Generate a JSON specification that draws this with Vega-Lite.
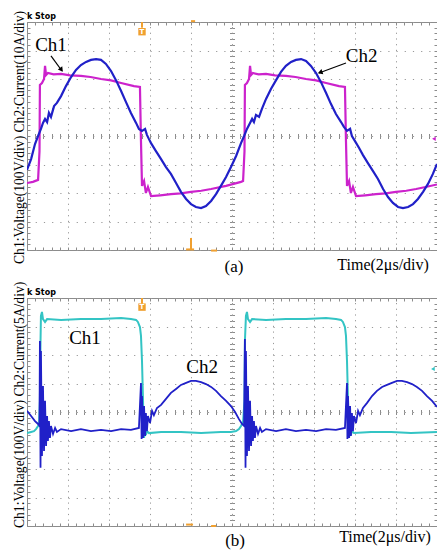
{
  "$schema": "https://vega.github.io/schema/vega-lite/v6.json",
  "background": "white",
  "padding": {"left": 12, "top": 10, "right": 0, "bottom": 0},
  "bounds": "flush",
  "spacing": 48,
  "config": {
    "view": {"stroke": "#8c8c8c", "strokeWidth": 1},
    "axis": {"labels": false, "domain": false, "ticks": false, "grid": false, "tickColor": "#8c8c8c", "tickWidth": 1, "gridColor": "#999999", "gridWidth": 1, "gridOpacity": 1}
  },
  "datasets": {
    "a1": [{"t":0,"v":-1.65},{"t":0.29,"v":-1.61},{"t":0.54,"v":-1.54},{"t":0.61,"v":-0.53},{"t":0.63,"v":1.79},{"t":0.73,"v":1.86},{"t":0.83,"v":2.0},{"t":0.88,"v":2.46},{"t":0.93,"v":2.14},{"t":1.02,"v":2.21},{"t":1.3,"v":2.16},{"t":1.66,"v":2.18},{"t":2.1,"v":2.13},{"t":2.63,"v":2.11},{"t":3.1,"v":2.07},{"t":3.61,"v":2.0},{"t":4.1,"v":1.95},{"t":4.59,"v":1.86},{"t":5.22,"v":1.75},{"t":5.51,"v":1.72},{"t":5.56,"v":-0.18},{"t":5.61,"v":-1.75},{"t":5.71,"v":-1.58},{"t":5.8,"v":-2.0},{"t":5.9,"v":-1.79},{"t":6.05,"v":-2.11},{"t":6.5,"v":-2.08},{"t":7.02,"v":-2.04},{"t":7.5,"v":-2.01},{"t":8.0,"v":-1.96},{"t":8.5,"v":-1.92},{"t":8.98,"v":-1.86},{"t":9.71,"v":-1.75},{"t":10.44,"v":-1.61},{"t":10.54,"v":-1.58},{"t":10.61,"v":-0.53},{"t":10.63,"v":1.79},{"t":10.73,"v":1.86},{"t":10.83,"v":2.0},{"t":10.88,"v":2.46},{"t":10.93,"v":2.14},{"t":11.02,"v":2.21},{"t":11.3,"v":2.16},{"t":11.66,"v":2.18},{"t":12.1,"v":2.13},{"t":12.63,"v":2.11},{"t":13.1,"v":2.07},{"t":13.61,"v":2.0},{"t":14.1,"v":1.95},{"t":14.59,"v":1.86},{"t":15.22,"v":1.75},{"t":15.51,"v":1.72},{"t":15.56,"v":-0.18},{"t":15.61,"v":-1.75},{"t":15.71,"v":-1.58},{"t":15.8,"v":-2.0},{"t":15.9,"v":-1.79},{"t":16.05,"v":-2.11},{"t":16.5,"v":-2.08},{"t":17.02,"v":-2.04},{"t":17.5,"v":-2.01},{"t":18.0,"v":-1.96},{"t":18.5,"v":-1.92},{"t":18.98,"v":-1.86},{"t":19.5,"v":-1.78},{"t":20.0,"v":-1.7}],
    "a2": [{"t":0,"v":-1.19},{"t":0.2,"v":-0.81},{"t":0.39,"v":-0.28},{"t":0.54,"v":0},{"t":0.68,"v":0.25},{"t":0.78,"v":0.46},{"t":0.88,"v":0.6},{"t":0.98,"v":0.49},{"t":1.07,"v":0.81},{"t":1.17,"v":0.67},{"t":1.32,"v":1.05},{"t":1.46,"v":1.16},{"t":1.66,"v":1.4},{"t":1.9,"v":1.75},{"t":2.15,"v":2.07},{"t":2.39,"v":2.32},{"t":2.63,"v":2.49},{"t":2.88,"v":2.6},{"t":3.12,"v":2.67},{"t":3.37,"v":2.7},{"t":3.61,"v":2.67},{"t":3.85,"v":2.53},{"t":4.1,"v":2.28},{"t":4.34,"v":1.96},{"t":4.59,"v":1.58},{"t":4.83,"v":1.19},{"t":5.07,"v":0.81},{"t":5.32,"v":0.46},{"t":5.46,"v":0.25},{"t":5.61,"v":0.18},{"t":5.76,"v":0.25},{"t":5.85,"v":0.04},{"t":5.95,"v":-0.11},{"t":6.05,"v":-0.25},{"t":6.29,"v":-0.53},{"t":6.54,"v":-0.81},{"t":6.78,"v":-1.09},{"t":7.02,"v":-1.33},{"t":7.27,"v":-1.65},{"t":7.51,"v":-1.96},{"t":7.76,"v":-2.21},{"t":8.0,"v":-2.39},{"t":8.24,"v":-2.49},{"t":8.49,"v":-2.53},{"t":8.73,"v":-2.46},{"t":8.98,"v":-2.28},{"t":9.22,"v":-2.04},{"t":9.46,"v":-1.75},{"t":9.71,"v":-1.44},{"t":9.95,"v":-1.09},{"t":10.2,"v":-0.7},{"t":10.44,"v":-0.25},{"t":10.59,"v":0},{"t":10.73,"v":0.25},{"t":10.88,"v":0.46},{"t":10.98,"v":0.6},{"t":11.07,"v":0.49},{"t":11.17,"v":0.74},{"t":11.32,"v":0.67},{"t":11.46,"v":0.95},{"t":11.66,"v":1.3},{"t":11.9,"v":1.65},{"t":12.15,"v":1.96},{"t":12.39,"v":2.25},{"t":12.63,"v":2.46},{"t":12.88,"v":2.6},{"t":13.12,"v":2.67},{"t":13.37,"v":2.7},{"t":13.61,"v":2.63},{"t":13.85,"v":2.46},{"t":14.1,"v":2.21},{"t":14.34,"v":1.89},{"t":14.59,"v":1.51},{"t":14.83,"v":1.12},{"t":15.07,"v":0.77},{"t":15.32,"v":0.49},{"t":15.46,"v":0.32},{"t":15.61,"v":0.18},{"t":15.76,"v":0.25},{"t":15.85,"v":0},{"t":16.0,"v":-0.18},{"t":16.2,"v":-0.42},{"t":16.39,"v":-0.67},{"t":16.63,"v":-0.95},{"t":16.88,"v":-1.23},{"t":17.12,"v":-1.51},{"t":17.37,"v":-1.86},{"t":17.61,"v":-2.14},{"t":17.85,"v":-2.35},{"t":18.1,"v":-2.49},{"t":18.34,"v":-2.53},{"t":18.59,"v":-2.49},{"t":18.83,"v":-2.39},{"t":19.07,"v":-2.21},{"t":19.32,"v":-1.96},{"t":19.56,"v":-1.68},{"t":19.8,"v":-1.33},{"t":20.0,"v":-0.98}],
    "b1": [{"t":0,"v":-0.74},{"t":0.2,"v":-0.7},{"t":0.34,"v":-0.67},{"t":0.44,"v":-0.6},{"t":0.54,"v":-0.49},{"t":0.59,"v":-0.39},{"t":0.63,"v":0.39},{"t":0.66,"v":2.49},{"t":0.68,"v":3.37},{"t":0.73,"v":3.51},{"t":0.78,"v":3.26},{"t":0.88,"v":3.16},{"t":0.98,"v":3.26},{"t":1.66,"v":3.23},{"t":2.63,"v":3.26},{"t":3.61,"v":3.26},{"t":4.59,"v":3.3},{"t":5.07,"v":3.26},{"t":5.32,"v":3.23},{"t":5.41,"v":3.16},{"t":5.51,"v":2.98},{"t":5.56,"v":2.67},{"t":5.61,"v":1.79},{"t":5.66,"v":0.39},{"t":5.68,"v":-0.49},{"t":5.71,"v":-0.91},{"t":5.76,"v":-0.6},{"t":5.8,"v":-0.81},{"t":5.85,"v":-0.67},{"t":5.95,"v":-0.74},{"t":6.54,"v":-0.7},{"t":7.51,"v":-0.7},{"t":8.49,"v":-0.74},{"t":9.46,"v":-0.7},{"t":9.95,"v":-0.7},{"t":10.2,"v":-0.67},{"t":10.34,"v":-0.6},{"t":10.44,"v":-0.49},{"t":10.54,"v":-0.35},{"t":10.61,"v":0.39},{"t":10.63,"v":2.49},{"t":10.68,"v":3.37},{"t":10.73,"v":3.51},{"t":10.78,"v":3.26},{"t":10.88,"v":3.16},{"t":10.98,"v":3.26},{"t":11.66,"v":3.23},{"t":12.63,"v":3.26},{"t":13.61,"v":3.26},{"t":14.59,"v":3.3},{"t":15.07,"v":3.26},{"t":15.32,"v":3.23},{"t":15.41,"v":3.16},{"t":15.51,"v":2.98},{"t":15.56,"v":2.67},{"t":15.61,"v":1.79},{"t":15.66,"v":0.39},{"t":15.68,"v":-0.49},{"t":15.71,"v":-0.91},{"t":15.76,"v":-0.6},{"t":15.8,"v":-0.81},{"t":15.85,"v":-0.67},{"t":15.95,"v":-0.74},{"t":16.78,"v":-0.7},{"t":17.76,"v":-0.7},{"t":18.73,"v":-0.74},{"t":20.0,"v":-0.7}],
    "b2": [{"t":0,"v":0.04},{"t":0.2,"v":-0.14},{"t":0.39,"v":-0.32},{"t":0.54,"v":-0.42},{"t":0.61,"v":-0.49},{"t":0.63,"v":2.49},{"t":0.66,"v":-1.96},{"t":0.68,"v":2.14},{"t":0.73,"v":-1.54},{"t":0.78,"v":0.91},{"t":0.83,"v":-1.37},{"t":0.88,"v":0.39},{"t":0.93,"v":-1.19},{"t":0.98,"v":-0.14},{"t":1.02,"v":-1.02},{"t":1.07,"v":-0.32},{"t":1.12,"v":-0.91},{"t":1.17,"v":-0.49},{"t":1.27,"v":-0.77},{"t":1.37,"v":-0.56},{"t":1.46,"v":-0.7},{"t":1.66,"v":-0.6},{"t":2.15,"v":-0.67},{"t":2.63,"v":-0.6},{"t":3.12,"v":-0.67},{"t":3.61,"v":-0.63},{"t":4.1,"v":-0.67},{"t":4.59,"v":-0.6},{"t":5.07,"v":-0.63},{"t":5.46,"v":-0.56},{"t":5.56,"v":1.02},{"t":5.59,"v":-0.95},{"t":5.61,"v":0.56},{"t":5.66,"v":-0.91},{"t":5.71,"v":0.21},{"t":5.76,"v":-0.84},{"t":5.8,"v":-0.04},{"t":5.85,"v":-0.67},{"t":5.9,"v":-0.14},{"t":6.0,"v":-0.39},{"t":6.1,"v":0.04},{"t":6.19,"v":-0.11},{"t":6.34,"v":0.14},{"t":6.54,"v":0.25},{"t":6.78,"v":0.46},{"t":7.02,"v":0.67},{"t":7.27,"v":0.81},{"t":7.51,"v":0.95},{"t":7.76,"v":1.02},{"t":8.0,"v":1.09},{"t":8.24,"v":1.09},{"t":8.49,"v":1.05},{"t":8.73,"v":0.98},{"t":8.98,"v":0.88},{"t":9.22,"v":0.74},{"t":9.46,"v":0.56},{"t":9.71,"v":0.39},{"t":9.95,"v":0.21},{"t":10.15,"v":0},{"t":10.34,"v":-0.25},{"t":10.49,"v":-0.42},{"t":10.59,"v":-0.49},{"t":10.63,"v":2.56},{"t":10.66,"v":-1.96},{"t":10.68,"v":2.14},{"t":10.73,"v":-1.54},{"t":10.78,"v":0.91},{"t":10.83,"v":-1.37},{"t":10.88,"v":0.39},{"t":10.93,"v":-1.19},{"t":10.98,"v":-0.14},{"t":11.02,"v":-1.02},{"t":11.07,"v":-0.32},{"t":11.12,"v":-0.91},{"t":11.17,"v":-0.49},{"t":11.27,"v":-0.77},{"t":11.37,"v":-0.56},{"t":11.46,"v":-0.7},{"t":11.66,"v":-0.6},{"t":12.15,"v":-0.67},{"t":12.63,"v":-0.6},{"t":13.12,"v":-0.67},{"t":13.61,"v":-0.63},{"t":14.1,"v":-0.67},{"t":14.59,"v":-0.6},{"t":15.07,"v":-0.63},{"t":15.51,"v":-0.56},{"t":15.61,"v":1.02},{"t":15.63,"v":-0.95},{"t":15.66,"v":0.56},{"t":15.71,"v":-0.91},{"t":15.76,"v":0.21},{"t":15.8,"v":-0.84},{"t":15.85,"v":-0.04},{"t":15.9,"v":-0.67},{"t":15.95,"v":-0.14},{"t":16.05,"v":-0.39},{"t":16.15,"v":0.04},{"t":16.24,"v":-0.11},{"t":16.39,"v":0.14},{"t":16.59,"v":0.32},{"t":16.83,"v":0.56},{"t":17.07,"v":0.74},{"t":17.32,"v":0.88},{"t":17.56,"v":0.95},{"t":17.8,"v":1.02},{"t":18.05,"v":1.09},{"t":18.29,"v":1.09},{"t":18.54,"v":1.05},{"t":18.78,"v":0.98},{"t":19.02,"v":0.88},{"t":19.27,"v":0.74},{"t":19.51,"v":0.56},{"t":19.76,"v":0.39},{"t":20.0,"v":0.18}]
  },
  "vconcat": [
    {
      "width": 410, "height": 228,
      "resolve": {"axis": {"x": "independent", "y": "independent"}},
      "layer": [
        {"mark": {"type": "rule", "color": "#8c8c8c", "strokeWidth": 1.5},
         "encoding": {"x": {"datum": 10, "type": "quantitative", "scale": {"domain": [0, 20], "nice": false},
           "axis": {"title": null, "orient": "bottom", "values": [0,2,4,6,8,10,12,14,16,18,20], "grid": true, "gridDash": [1.2, 4.5]}}}},
        {"mark": {"type": "rule", "color": "#8c8c8c", "strokeWidth": 1.5},
         "encoding": {"y": {"datum": 0, "type": "quantitative", "scale": {"domain": [-4, 4], "nice": false},
           "axis": {"title": null, "orient": "left", "values": [-4,-3,-2,-1,0,1,2,3,4], "grid": true, "gridDash": [1.2, 7]}}}},
        {"data": {"name": "a1"}, "mark": {"type": "line", "color": "#cc22cc", "strokeWidth": 2.2, "clip": true},
         "encoding": {
           "x": {"field": "t", "type": "quantitative", "scale": {"domain": [0, 20], "nice": false},
             "axis": {"title": null, "orient": "bottom", "ticks": true, "tickSize": -3, "values": [0,0.4,0.8,1.2,1.6,2,2.4,2.8,3.2,3.6,4,4.4,4.8,5.2,5.6,6,6.4,6.8,7.2,7.6,8,8.4,8.8,9.2,9.6,10,10.4,10.8,11.2,11.6,12,12.4,12.8,13.2,13.6,14,14.4,14.8,15.2,15.6,16,16.4,16.8,17.2,17.6,18,18.4,18.8,19.2,19.6,20]}},
           "y": {"field": "v", "type": "quantitative", "scale": {"domain": [-4, 4], "nice": false},
             "axis": {"title": null, "orient": "left", "ticks": true, "tickSize": -3, "values": [-4,-3.8,-3.6,-3.4,-3.2,-3,-2.8,-2.6,-2.4,-2.2,-2,-1.8,-1.6,-1.4,-1.2,-1,-0.8,-0.6,-0.4,-0.2,0,0.2,0.4,0.6,0.8,1,1.2,1.4,1.6,1.8,2,2.2,2.4,2.6,2.8,3,3.2,3.4,3.6,3.8,4]}}}},
        {"data": {"name": "a2"}, "mark": {"type": "line", "color": "#2020c8", "strokeWidth": 2.2, "clip": true},
         "encoding": {
           "x": {"field": "t", "type": "quantitative", "scale": {"domain": [0, 20], "nice": false},
             "axis": {"title": null, "orient": "top", "ticks": true, "tickSize": -3, "values": [0,0.4,0.8,1.2,1.6,2,2.4,2.8,3.2,3.6,4,4.4,4.8,5.2,5.6,6,6.4,6.8,7.2,7.6,8,8.4,8.8,9.2,9.6,10,10.4,10.8,11.2,11.6,12,12.4,12.8,13.2,13.6,14,14.4,14.8,15.2,15.6,16,16.4,16.8,17.2,17.6,18,18.4,18.8,19.2,19.6,20]}},
           "y": {"field": "v", "type": "quantitative", "scale": {"domain": [-4, 4], "nice": false},
             "axis": {"title": null, "orient": "right", "ticks": true, "tickSize": -3, "values": [-4,-3.8,-3.6,-3.4,-3.2,-3,-2.8,-2.6,-2.4,-2.2,-2,-1.8,-1.6,-1.4,-1.2,-1,-0.8,-0.6,-0.4,-0.2,0,0.2,0.4,0.6,0.8,1,1.2,1.4,1.6,1.8,2,2.2,2.4,2.6,2.8,3,3.2,3.4,3.6,3.8,4]}}}},
        {"data": {"values": [{"t": 1.17, "v": 3.21, "label": "Ch1"}, {"t": 16.32, "v": 2.82, "label": "Ch2"}]},
         "mark": {"type": "text", "font": "Liberation Serif", "fontSize": 19, "align": "center", "baseline": "middle", "color": "black"},
         "encoding": {
           "x": {"field": "t", "type": "quantitative", "scale": {"domain": [0, 20], "nice": false},
             "axis": {"title": null, "orient": "bottom", "offset": -114, "ticks": true, "tickSize": 2.5, "values": [0,0.4,0.8,1.2,1.6,2,2.4,2.8,3.2,3.6,4,4.4,4.8,5.2,5.6,6,6.4,6.8,7.2,7.6,8,8.4,8.8,9.2,9.6,10,10.4,10.8,11.2,11.6,12,12.4,12.8,13.2,13.6,14,14.4,14.8,15.2,15.6,16,16.4,16.8,17.2,17.6,18,18.4,18.8,19.2,19.6,20]}},
           "y": {"field": "v", "type": "quantitative", "scale": {"domain": [-4, 4], "nice": false},
             "axis": {"title": null, "orient": "left", "offset": -205, "ticks": true, "tickSize": 2.5, "values": [-4,-3.8,-3.6,-3.4,-3.2,-3,-2.8,-2.6,-2.4,-2.2,-2,-1.8,-1.6,-1.4,-1.2,-1,-0.8,-0.6,-0.4,-0.2,0,0.2,0.4,0.6,0.8,1,1.2,1.4,1.6,1.8,2,2.2,2.4,2.6,2.8,3,3.2,3.4,3.6,3.8,4]}},
           "text": {"field": "label"}}},
        {"data": {"values": [{"t": 1.17, "v": 2.81, "t2": 1.71, "v2": 2.28}, {"t": 15.56, "v": 2.56, "t2": 14.24, "v2": 2.21}]},
         "mark": {"type": "rule", "color": "black", "strokeWidth": 1.2},
         "encoding": {
           "x": {"field": "t", "type": "quantitative", "scale": {"domain": [0, 20], "nice": false},
             "axis": {"title": null, "orient": "top", "offset": -114, "ticks": true, "tickSize": 2.5, "values": [0,0.4,0.8,1.2,1.6,2,2.4,2.8,3.2,3.6,4,4.4,4.8,5.2,5.6,6,6.4,6.8,7.2,7.6,8,8.4,8.8,9.2,9.6,10,10.4,10.8,11.2,11.6,12,12.4,12.8,13.2,13.6,14,14.4,14.8,15.2,15.6,16,16.4,16.8,17.2,17.6,18,18.4,18.8,19.2,19.6,20]}},
           "y": {"field": "v", "type": "quantitative", "scale": {"domain": [-4, 4], "nice": false},
             "axis": {"title": null, "orient": "right", "offset": -205, "ticks": true, "tickSize": 2.5, "values": [-4,-3.8,-3.6,-3.4,-3.2,-3,-2.8,-2.6,-2.4,-2.2,-2,-1.8,-1.6,-1.4,-1.2,-1,-0.8,-0.6,-0.4,-0.2,0,0.2,0.4,0.6,0.8,1,1.2,1.4,1.6,1.8,2,2.2,2.4,2.6,2.8,3,3.2,3.4,3.6,3.8,4]}},
           "x2": {"field": "t2"}, "y2": {"field": "v2"}}},
        {"data": {"values": [{"t": 1.68, "v": 2.32}]},
         "mark": {"type": "point", "shape": "triangle-up", "filled": true, "color": "black", "opacity": 1, "size": 30, "angle": 144},
         "encoding": {"x": {"field": "t", "type": "quantitative", "axis": null}, "y": {"field": "v", "type": "quantitative", "axis": null}}},
        {"data": {"values": [{"t": 14.3, "v": 2.23}]},
         "mark": {"type": "point", "shape": "triangle-up", "filled": true, "color": "black", "opacity": 1, "size": 30, "angle": 250},
         "encoding": {"x": {"field": "t", "type": "quantitative", "axis": null}, "y": {"field": "v", "type": "quantitative", "axis": null}}},
        {"data": {"values": [{"t": 8.0, "v": -3.58, "t2": 8.0, "v2": -3.97}, {"t": 7.76, "v": -3.98, "t2": 8.15, "v2": -3.98}, {"t": 8.98, "v": -4.02, "t2": 9.27, "v2": -4.02}, {"t": 8.0, "v": 4.03, "t2": 8.2, "v2": 4.03}, {"t": 5.61, "v": 4.0, "t2": 5.61, "v2": 3.8}]},
         "mark": {"type": "rule", "color": "#f0a030", "strokeWidth": 2},
         "encoding": {"x": {"field": "t", "type": "quantitative", "axis": null}, "y": {"field": "v", "type": "quantitative", "axis": null}, "x2": {"field": "t2"}, "y2": {"field": "v2"}}},
        {"data": {"values": [{"t": 5.61, "v": 3.66}]},
         "mark": {"type": "point", "shape": "square", "filled": true, "color": "#f0a030", "opacity": 1, "size": 55},
         "encoding": {"x": {"field": "t", "type": "quantitative", "axis": null}, "y": {"field": "v", "type": "quantitative", "axis": null}}},
        {"data": {"values": [{"t": 5.61, "v": 3.65, "label": "T"}]},
         "mark": {"type": "text", "font": "DejaVu Sans", "fontSize": 7, "fontWeight": "bold", "color": "white", "align": "center", "baseline": "middle"},
         "encoding": {"x": {"field": "t", "type": "quantitative", "axis": null}, "y": {"field": "v", "type": "quantitative", "axis": null}, "text": {"field": "label"}}},
        {"data": {"values": [{"t": 19.85, "v": -0.1}]},
         "mark": {"type": "point", "shape": "triangle-left", "filled": true, "color": "#cc22cc", "opacity": 1, "size": 18},
         "encoding": {"x": {"field": "t", "type": "quantitative", "axis": null}, "y": {"field": "v", "type": "quantitative", "axis": null}}},
        {"data": {"values": [{"t": 10.1, "v": -4.61, "label": "(a)"}]},
         "mark": {"type": "text", "font": "Liberation Serif", "fontSize": 17, "align": "center", "baseline": "middle", "color": "black"},
         "encoding": {"x": {"field": "t", "type": "quantitative", "axis": null}, "y": {"field": "v", "type": "quantitative", "axis": null}, "text": {"field": "label"}}},
        {"data": {"values": [{"t": 17.37, "v": -4.51, "label": "Time(2μs/div)"}]},
         "mark": {"type": "text", "font": "Liberation Serif", "fontSize": 16, "align": "center", "baseline": "middle", "color": "black"},
         "encoding": {"x": {"field": "t", "type": "quantitative", "axis": null}, "y": {"field": "v", "type": "quantitative", "axis": null}, "text": {"field": "label"}}},
        {"data": {"values": [{"t": -0.34, "v": -0.05, "label": "Ch1:Voltage(100V/div) Ch2:Current(10A/div)"}]},
         "mark": {"type": "text", "font": "Liberation Serif", "fontSize": 13.6, "angle": 270, "align": "center", "baseline": "middle", "color": "black"},
         "encoding": {"x": {"field": "t", "type": "quantitative", "axis": null}, "y": {"field": "v", "type": "quantitative", "axis": null}, "text": {"field": "label"}}},
        {"data": {"values": [{"t": 0, "v": 4.18, "label": "k Stop"}]},
         "mark": {"type": "text", "font": "DejaVu Sans", "fontSize": 8, "fontWeight": "bold", "align": "left", "baseline": "middle", "color": "black"},
         "encoding": {"x": {"field": "t", "type": "quantitative", "axis": null}, "y": {"field": "v", "type": "quantitative", "axis": null}, "text": {"field": "label"}}}
      ]
    },
    {
      "width": 410, "height": 228,
      "resolve": {"axis": {"x": "independent", "y": "independent"}},
      "layer": [
        {"mark": {"type": "rule", "color": "#8c8c8c", "strokeWidth": 1.5},
         "encoding": {"x": {"datum": 10, "type": "quantitative", "scale": {"domain": [0, 20], "nice": false},
           "axis": {"title": null, "orient": "bottom", "values": [0,2,4,6,8,10,12,14,16,18,20], "grid": true, "gridDash": [1.2, 4.5]}}}},
        {"mark": {"type": "rule", "color": "#8c8c8c", "strokeWidth": 1.5},
         "encoding": {"y": {"datum": 0, "type": "quantitative", "scale": {"domain": [-4, 4], "nice": false},
           "axis": {"title": null, "orient": "left", "values": [-4,-3,-2,-1,0,1,2,3,4], "grid": true, "gridDash": [1.2, 7]}}}},
        {"data": {"name": "b1"}, "mark": {"type": "line", "color": "#33c4c4", "strokeWidth": 2, "clip": true},
         "encoding": {
           "x": {"field": "t", "type": "quantitative", "scale": {"domain": [0, 20], "nice": false},
             "axis": {"title": null, "orient": "bottom", "ticks": true, "tickSize": -3, "values": [0,0.4,0.8,1.2,1.6,2,2.4,2.8,3.2,3.6,4,4.4,4.8,5.2,5.6,6,6.4,6.8,7.2,7.6,8,8.4,8.8,9.2,9.6,10,10.4,10.8,11.2,11.6,12,12.4,12.8,13.2,13.6,14,14.4,14.8,15.2,15.6,16,16.4,16.8,17.2,17.6,18,18.4,18.8,19.2,19.6,20]}},
           "y": {"field": "v", "type": "quantitative", "scale": {"domain": [-4, 4], "nice": false},
             "axis": {"title": null, "orient": "left", "ticks": true, "tickSize": -3, "values": [-4,-3.8,-3.6,-3.4,-3.2,-3,-2.8,-2.6,-2.4,-2.2,-2,-1.8,-1.6,-1.4,-1.2,-1,-0.8,-0.6,-0.4,-0.2,0,0.2,0.4,0.6,0.8,1,1.2,1.4,1.6,1.8,2,2.2,2.4,2.6,2.8,3,3.2,3.4,3.6,3.8,4]}}}},
        {"data": {"name": "b2"}, "mark": {"type": "line", "color": "#2020c8", "strokeWidth": 1.8, "clip": true},
         "encoding": {
           "x": {"field": "t", "type": "quantitative", "scale": {"domain": [0, 20], "nice": false},
             "axis": {"title": null, "orient": "top", "ticks": true, "tickSize": -3, "values": [0,0.4,0.8,1.2,1.6,2,2.4,2.8,3.2,3.6,4,4.4,4.8,5.2,5.6,6,6.4,6.8,7.2,7.6,8,8.4,8.8,9.2,9.6,10,10.4,10.8,11.2,11.6,12,12.4,12.8,13.2,13.6,14,14.4,14.8,15.2,15.6,16,16.4,16.8,17.2,17.6,18,18.4,18.8,19.2,19.6,20]}},
           "y": {"field": "v", "type": "quantitative", "scale": {"domain": [-4, 4], "nice": false},
             "axis": {"title": null, "orient": "right", "ticks": true, "tickSize": -3, "values": [-4,-3.8,-3.6,-3.4,-3.2,-3,-2.8,-2.6,-2.4,-2.2,-2,-1.8,-1.6,-1.4,-1.2,-1,-0.8,-0.6,-0.4,-0.2,0,0.2,0.4,0.6,0.8,1,1.2,1.4,1.6,1.8,2,2.2,2.4,2.6,2.8,3,3.2,3.4,3.6,3.8,4]}}}},
        {"data": {"values": [{"t": 2.83, "v": 2.61, "label": "Ch1"}, {"t": 8.54, "v": 1.58, "label": "Ch2"}]},
         "mark": {"type": "text", "font": "Liberation Serif", "fontSize": 19, "align": "center", "baseline": "middle", "color": "black"},
         "encoding": {
           "x": {"field": "t", "type": "quantitative", "scale": {"domain": [0, 20], "nice": false},
             "axis": {"title": null, "orient": "bottom", "offset": -114, "ticks": true, "tickSize": 2.5, "values": [0,0.4,0.8,1.2,1.6,2,2.4,2.8,3.2,3.6,4,4.4,4.8,5.2,5.6,6,6.4,6.8,7.2,7.6,8,8.4,8.8,9.2,9.6,10,10.4,10.8,11.2,11.6,12,12.4,12.8,13.2,13.6,14,14.4,14.8,15.2,15.6,16,16.4,16.8,17.2,17.6,18,18.4,18.8,19.2,19.6,20]}},
           "y": {"field": "v", "type": "quantitative", "scale": {"domain": [-4, 4], "nice": false},
             "axis": {"title": null, "orient": "left", "offset": -205, "ticks": true, "tickSize": 2.5, "values": [-4,-3.8,-3.6,-3.4,-3.2,-3,-2.8,-2.6,-2.4,-2.2,-2,-1.8,-1.6,-1.4,-1.2,-1,-0.8,-0.6,-0.4,-0.2,0,0.2,0.4,0.6,0.8,1,1.2,1.4,1.6,1.8,2,2.2,2.4,2.6,2.8,3,3.2,3.4,3.6,3.8,4]}},
           "text": {"field": "label"}}},
        {"data": {"values": [{"t": 7.76, "v": -3.95, "t2": 8.1, "v2": -3.95}, {"t": 8.98, "v": -4.0, "t2": 9.22, "v2": -4.0}, {"t": 5.61, "v": 4.0, "t2": 5.61, "v2": 3.8}]},
         "mark": {"type": "rule", "color": "#f0a030", "strokeWidth": 2},
         "encoding": {
           "x": {"field": "t", "type": "quantitative", "scale": {"domain": [0, 20], "nice": false},
             "axis": {"title": null, "orient": "top", "offset": -114, "ticks": true, "tickSize": 2.5, "values": [0,0.4,0.8,1.2,1.6,2,2.4,2.8,3.2,3.6,4,4.4,4.8,5.2,5.6,6,6.4,6.8,7.2,7.6,8,8.4,8.8,9.2,9.6,10,10.4,10.8,11.2,11.6,12,12.4,12.8,13.2,13.6,14,14.4,14.8,15.2,15.6,16,16.4,16.8,17.2,17.6,18,18.4,18.8,19.2,19.6,20]}},
           "y": {"field": "v", "type": "quantitative", "scale": {"domain": [-4, 4], "nice": false},
             "axis": {"title": null, "orient": "right", "offset": -205, "ticks": true, "tickSize": 2.5, "values": [-4,-3.8,-3.6,-3.4,-3.2,-3,-2.8,-2.6,-2.4,-2.2,-2,-1.8,-1.6,-1.4,-1.2,-1,-0.8,-0.6,-0.4,-0.2,0,0.2,0.4,0.6,0.8,1,1.2,1.4,1.6,1.8,2,2.2,2.4,2.6,2.8,3,3.2,3.4,3.6,3.8,4]}},
           "x2": {"field": "t2"}, "y2": {"field": "v2"}}},
        {"data": {"values": [{"t": 5.61, "v": 3.68}]},
         "mark": {"type": "point", "shape": "square", "filled": true, "color": "#f0a030", "opacity": 1, "size": 55},
         "encoding": {"x": {"field": "t", "type": "quantitative", "axis": null}, "y": {"field": "v", "type": "quantitative", "axis": null}}},
        {"data": {"values": [{"t": 5.61, "v": 3.67, "label": "T"}]},
         "mark": {"type": "text", "font": "DejaVu Sans", "fontSize": 7, "fontWeight": "bold", "color": "white", "align": "center", "baseline": "middle"},
         "encoding": {"x": {"field": "t", "type": "quantitative", "axis": null}, "y": {"field": "v", "type": "quantitative", "axis": null}, "text": {"field": "label"}}},
        {"data": {"values": [{"t": 19.8, "v": 1.51}]},
         "mark": {"type": "point", "shape": "triangle-left", "filled": true, "color": "#33c4c4", "opacity": 1, "size": 18},
         "encoding": {"x": {"field": "t", "type": "quantitative", "axis": null}, "y": {"field": "v", "type": "quantitative", "axis": null}}},
        {"data": {"values": [{"t": 10.15, "v": -4.53, "label": "(b)"}]},
         "mark": {"type": "text", "font": "Liberation Serif", "fontSize": 17, "align": "center", "baseline": "middle", "color": "black"},
         "encoding": {"x": {"field": "t", "type": "quantitative", "axis": null}, "y": {"field": "v", "type": "quantitative", "axis": null}, "text": {"field": "label"}}},
        {"data": {"values": [{"t": 17.46, "v": -4.37, "label": "Time(2μs/div)"}]},
         "mark": {"type": "text", "font": "Liberation Serif", "fontSize": 16, "align": "center", "baseline": "middle", "color": "black"},
         "encoding": {"x": {"field": "t", "type": "quantitative", "axis": null}, "y": {"field": "v", "type": "quantitative", "axis": null}, "text": {"field": "label"}}},
        {"data": {"values": [{"t": -0.34, "v": 0.25, "label": "Ch1:Voltage(100V/div) Ch2:Current(5A/div)"}]},
         "mark": {"type": "text", "font": "Liberation Serif", "fontSize": 13.6, "angle": 270, "align": "center", "baseline": "middle", "color": "black"},
         "encoding": {"x": {"field": "t", "type": "quantitative", "axis": null}, "y": {"field": "v", "type": "quantitative", "axis": null}, "text": {"field": "label"}}},
        {"data": {"values": [{"t": 0, "v": 4.18, "label": "k Stop"}]},
         "mark": {"type": "text", "font": "DejaVu Sans", "fontSize": 8, "fontWeight": "bold", "align": "left", "baseline": "middle", "color": "black"},
         "encoding": {"x": {"field": "t", "type": "quantitative", "axis": null}, "y": {"field": "v", "type": "quantitative", "axis": null}, "text": {"field": "label"}}}
      ]
    }
  ]
}
